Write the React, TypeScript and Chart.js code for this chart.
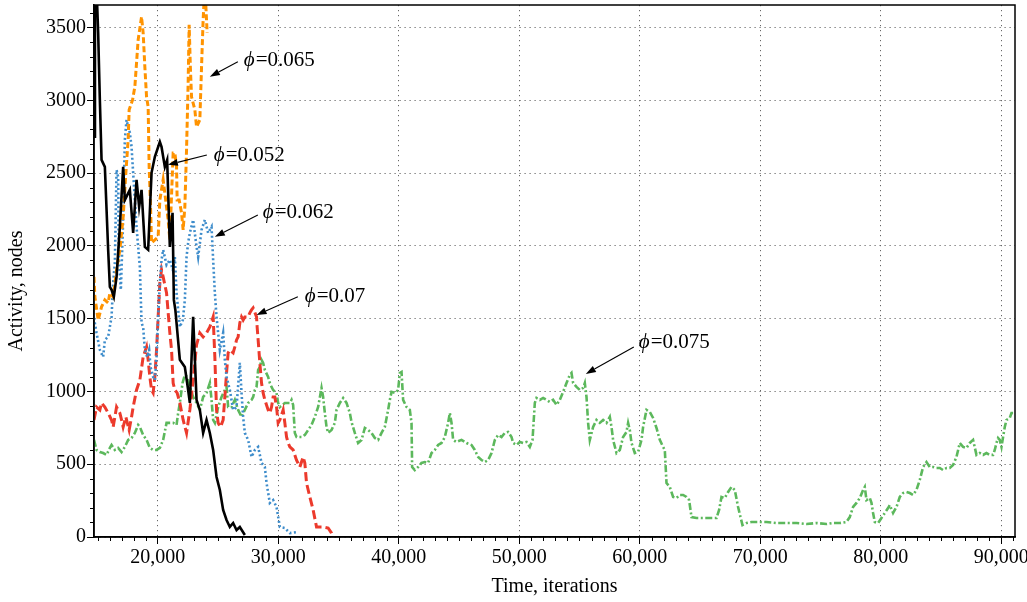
import React, { useEffect, useRef } from 'react';
import { Chart, registerables } from 'chart.js';

Chart.register(...registerables);

// ---- data (Time in iterations, Activity in nodes) ----
const phi052: [number, number][] = [
  [14700, 2750], [14780, 3800], [14900, 3800], [15045, 3464], [15186, 3003], [15327, 2591], [15601, 2543],
  [15875, 1973], [16016, 1718], [16157, 1698], [16348, 1650], [16572, 1787], [16846, 2131], [17120, 2543],
  [17261, 2316], [17676, 2385], [17950, 2089], [18232, 2454], [18448, 2268], [18647, 2385], [18921, 1993],
  [19195, 1973], [19477, 2502], [19751, 2612], [20166, 2715], [20307, 2680], [20581, 2543], [20772, 2591],
  [20996, 1993], [21220, 2227], [21328, 1629], [21453, 1560], [21826, 1217], [22241, 1168], [22515, 1010],
  [22656, 921], [22930, 1512], [23212, 942], [23486, 873], [23760, 715], [24042, 804], [24316, 715],
  [24590, 598], [24872, 412], [25146, 323], [25420, 186], [25702, 117], [25976, 69], [26250, 96],
  [26532, 48], [26806, 69], [27221, 14],
];

const phi062: [number, number][] = [
  [14700, 1505], [14912, 1402], [15186, 1285], [15460, 1237], [15601, 1354], [15875, 1375], [16157, 1512],
  [16290, 1746], [16431, 1883], [16572, 2522], [16705, 2474], [16763, 1904], [16929, 1698], [17095, 2110],
  [17261, 2729], [17402, 2866], [17535, 2818], [17676, 2777], [17817, 2680], [17950, 2502], [18091, 2316],
  [18232, 2131], [18365, 1993], [18506, 1856], [18647, 1471], [18780, 1443], [18921, 1285], [19112, 1237],
  [19278, 1285], [19394, 1168], [19610, 1100], [19751, 1079], [19892, 1237], [20025, 1512], [20166, 1746],
  [20307, 1904], [20440, 1973], [20722, 1869], [20996, 1904], [21245, 1835], [21411, 1924], [21552, 1677],
  [21826, 1443], [22075, 1491], [22241, 1629], [22382, 1924], [22515, 2021], [22656, 2089], [22930, 2179],
  [23212, 1993], [23345, 1924], [23627, 2110], [23901, 2179], [24175, 2089], [24457, 2131], [24590, 1904],
  [24731, 1677], [24872, 1512], [25146, 1285], [25420, 1402], [25561, 1217], [25702, 1100], [25976, 1010],
  [26250, 873], [26532, 893], [26806, 1196], [26946, 990], [27079, 825], [27221, 715], [27495, 667],
  [27777, 550], [28051, 598], [28325, 619], [28607, 509], [28881, 481], [29022, 371], [29296, 234],
  [29570, 254], [29852, 206], [30126, 69], [30541, 62], [30956, 27], [31645, 34],
];

const phi065: [number, number][] = [
  [14700, 1787], [14771, 1650], [15045, 1491], [15327, 1581], [15601, 1629], [15875, 1608], [16016, 1677],
  [16290, 1650], [16572, 1835], [16846, 1973], [17120, 2199], [17344, 2502], [17535, 2729], [17618, 2935],
  [17900, 3003], [18091, 3093], [18365, 3416], [18647, 3574], [18780, 3464], [18921, 3230], [19062, 3024],
  [19195, 2955], [19278, 2543], [19394, 2268], [19477, 2021], [19751, 2041], [20025, 2062], [20166, 2316],
  [20440, 2454], [20855, 2179], [20996, 2041], [21270, 2639], [21411, 2639], [21552, 2543], [21602, 2316],
  [21768, 2316], [21967, 2227], [22100, 2110], [22241, 2268], [22382, 2660], [22515, 3120], [22598, 3519],
  [22698, 3230], [22796, 3024], [23071, 2935], [23212, 2818], [23486, 2866], [23627, 3230], [23760, 3553],
  [23901, 3794], [24092, 3464],
];

const phi070: [number, number][] = [
  [14700, 804], [14912, 893], [15186, 873], [15327, 921], [15601, 893], [15875, 852], [16157, 804],
  [16290, 756], [16572, 893], [16846, 852], [16987, 804], [17120, 756], [17344, 825], [17618, 735],
  [17817, 825], [17950, 893], [18232, 1010], [18506, 1079], [18780, 1237], [19062, 1306], [19195, 1217],
  [19336, 1100], [19477, 1010], [19610, 990], [19751, 1100], [19892, 1285], [20025, 1512], [20166, 1746],
  [20307, 1835], [20440, 1787], [20722, 1677], [20996, 1402], [21137, 1285], [21270, 1058], [21411, 1010],
  [21602, 990], [21826, 921], [22100, 804], [22382, 715], [22656, 873], [22930, 1079], [23212, 1320],
  [23486, 1402], [23760, 1375], [24042, 1402], [24316, 1443], [24590, 1512], [24731, 1237], [24872, 873],
  [25005, 784], [25204, 756], [25420, 804], [25561, 962], [25702, 1127], [25835, 1265], [25976, 1285],
  [26250, 1265], [26391, 1306], [26532, 1354], [26665, 1375], [26806, 1471], [26946, 1512], [27079, 1491],
  [27221, 1512], [27495, 1512], [27636, 1540], [27777, 1560], [27910, 1574], [28192, 1512], [28242, 1443],
  [28325, 1354], [28466, 1196], [28607, 1058], [28740, 990], [28881, 942], [29155, 873], [29296, 852],
  [29437, 893], [29570, 962], [29711, 962], [29852, 893], [29985, 784], [30126, 804], [30400, 873],
  [30541, 784], [30682, 687], [30815, 646], [30956, 619], [31230, 598], [31504, 529], [31786, 481],
  [32060, 550], [32201, 509], [32342, 371], [32616, 275], [32890, 186], [33172, 69], [33446, 69],
  [33720, 69], [34135, 62], [34417, 27], [34550, 0],
];

const phi075: [number, number][] = [
  [14700, 667], [14912, 598], [15186, 584], [15460, 577], [15742, 564], [16016, 612], [16157, 632], [16431, 598],
  [16705, 612], [16987, 584], [17261, 619], [17535, 667], [17817, 680], [18091, 715], [18365, 770], [18506, 756],
  [18780, 701], [19062, 667], [19336, 612], [19610, 598], [19892, 598], [20166, 612], [20440, 667], [20722, 784],
  [20996, 784], [21270, 784], [21552, 770], [21685, 852], [21826, 921], [22050, 1058], [22241, 1113], [22432, 1100],
  [22656, 1031], [22930, 962], [23212, 921], [23486, 873], [23760, 962], [24042, 990], [24316, 1058], [24457, 942],
  [24590, 804], [24731, 784], [25005, 893], [25287, 962], [25561, 1010], [25702, 1031], [25835, 893], [26117, 893],
  [26391, 942], [26665, 873], [26946, 825], [27221, 873], [27495, 921], [27777, 942], [27910, 962], [28051, 1010],
  [28192, 1031], [28325, 1148], [28466, 1168], [28607, 1217], [28740, 1196], [28881, 1148], [29155, 1100], [29296, 1058],
  [29437, 1031], [29570, 1010], [29852, 990], [29985, 921], [30126, 893], [30541, 921], [30956, 921], [31097, 942],
  [31230, 907], [31371, 715], [31512, 687], [31927, 687], [32201, 701], [32475, 735], [32757, 770], [33031, 825],
  [33305, 893], [33587, 1024], [33720, 962], [33861, 852], [34002, 756], [34135, 715], [34417, 735], [34691, 784],
  [34832, 873], [35106, 921], [35380, 955], [35662, 921], [35936, 852], [36077, 790], [36351, 715], [36625, 646],
  [36907, 667], [37181, 749], [37455, 735], [37737, 715], [38011, 680], [38285, 667], [38567, 715], [38841, 756],
  [39115, 873], [39256, 942], [39397, 997], [39671, 990], [39945, 1010], [40086, 1127], [40227, 1134], [40360, 942],
  [40642, 893], [40916, 873], [41057, 784], [41107, 481], [41331, 460], [41605, 481], [41887, 509], [42161, 515],
  [42435, 509], [42717, 577], [42991, 598], [43265, 632], [43547, 646], [43821, 687], [44095, 784], [44236, 852],
  [44377, 784], [44510, 667], [44792, 653], [45207, 667], [45622, 646], [46037, 632], [46311, 598], [46585, 550],
  [46867, 529], [47141, 515], [47415, 529], [47697, 577], [47971, 667], [48245, 701], [48527, 687], [48801, 715],
  [49075, 722], [49357, 687], [49490, 646], [49772, 632], [50046, 653], [50320, 646], [50602, 653], [50876, 619],
  [51100, 667], [51291, 921], [51432, 955], [51706, 942], [51980, 955], [52262, 942], [52536, 928], [52810, 942],
  [53092, 907], [53366, 942], [53640, 997], [53922, 1058], [54196, 1113], [54337, 1127], [54470, 1058], [54752, 1031],
  [55026, 1010], [55300, 1024], [55441, 1058], [55582, 962], [55715, 784], [55856, 667], [56130, 756], [56412, 804],
  [56686, 784], [56960, 804], [57242, 784], [57516, 825], [57657, 756], [57790, 667], [58072, 577], [58346, 598],
  [58620, 687], [58902, 722], [59035, 784], [59176, 735], [59317, 646], [59591, 577], [59865, 584], [60147, 667],
  [60280, 756], [60562, 873], [60836, 859], [61110, 818], [61392, 749], [61666, 667], [61940, 619], [62081, 598],
  [62222, 371], [62496, 344], [62770, 275], [63052, 268], [63326, 289], [63600, 289], [63882, 275], [64098, 254],
  [64297, 137], [64712, 131], [65260, 131], [65816, 131], [66372, 131], [66588, 186], [66787, 275], [67061, 268],
  [67335, 309], [67617, 344], [67891, 323], [68165, 206], [68364, 137], [68530, 82], [68862, 96], [69277, 103],
  [69825, 103], [70522, 103], [71352, 96], [72182, 96], [73012, 96], [73842, 89], [74672, 96], [75502, 89],
  [76050, 96], [76606, 96], [77162, 103], [77436, 137], [77710, 206], [77992, 234], [78266, 268], [78540, 323],
  [78681, 344], [78822, 254], [79096, 268], [79237, 234], [79370, 165], [79511, 103], [79785, 96], [80067, 131],
  [80341, 165], [80615, 199], [80756, 220], [81030, 165], [81312, 206], [81586, 275], [81860, 302], [82142, 309],
  [82416, 302], [82690, 289], [82972, 323], [83246, 392], [83520, 481], [83802, 515], [84076, 481], [84350, 481],
  [84632, 474], [84906, 474], [85180, 460], [85462, 474], [85736, 474], [86010, 495], [86292, 550], [86566, 646],
  [86840, 619], [87122, 612], [87396, 646], [87670, 667], [87952, 564], [88226, 577], [88500, 564], [88782, 577],
  [89056, 564], [89330, 564], [89471, 598], [89612, 646], [89745, 680], [89886, 667], [90027, 619], [90160, 687],
  [90301, 756], [90442, 804], [90716, 818], [90857, 852], [90990, 852],
];

const seriesNames = ['φ=0.052', 'φ=0.062', 'φ=0.065', 'φ=0.07', 'φ=0.075'];

// axis ranges / tick labels
const xMin = 14700;
const xMax = 91150;
const yMin = 0;
const yMax = 3655;
const xTicks = [20000, 30000, 40000, 50000, 60000, 70000, 80000, 90000];
const yTicks = [0, 500, 1000, 1500, 2000, 2500, 3000, 3500];
const xMinorStep = 1000;
const yMinorStep = 100;
const xTitle = 'Time, iterations';
const yTitle = 'Activity, nodes';

// annotation labels (data coordinates: text anchor, arrow tail, arrow tip)
const annoLabels = ['0.065', '0.052', '0.062', '0.07', '0.075'];
const annoTextX = [27138, 24648, 28715, 32201, 59923];
const annoTextY = [3272, 2619, 2227, 1650, 1333];
const annoTailX = [26640, 24067, 28300, 31620, 59508];
const annoTailY = [3265, 2625, 2213, 1650, 1306];
const annoTipX = [24316, 20830, 24731, 28192, 55524];
const annoTipY = [3162, 2557, 2062, 1526, 1120];

const FONT = '"Liberation Serif", "Times New Roman", serif';
const FS = 20;

const toPts = (arr: [number, number][]) => arr.map(([x, y]) => ({ x, y }));

const framePlugin = {
  id: 'frameAndMinor',
  afterDraw(chart: any) {
    const { ctx, chartArea, scales } = chart;
    const xs = scales.x;
    const ys = scales.y;
    ctx.save();
    // minor ticks
    ctx.strokeStyle = '#000';
    ctx.lineWidth = 1;
    ctx.beginPath();
    for (let v = Math.ceil(xMin / xMinorStep) * xMinorStep; v <= xMax; v += xMinorStep) {
      if (xTicks.includes(v)) continue;
      const px = Math.round(xs.getPixelForValue(v)) + 0.5;
      ctx.moveTo(px, chartArea.bottom);
      ctx.lineTo(px, chartArea.bottom + 4);
    }
    for (let v = yMin; v <= yMax; v += yMinorStep) {
      if (yTicks.includes(v)) continue;
      const py = Math.round(ys.getPixelForValue(v)) + 0.5;
      ctx.moveTo(chartArea.left - 4, py);
      ctx.lineTo(chartArea.left, py);
    }
    ctx.stroke();
    // frame
    ctx.lineWidth = 1.5;
    ctx.strokeRect(chartArea.left, chartArea.top, chartArea.right - chartArea.left, chartArea.bottom - chartArea.top);

    // y-axis title
    ctx.fillStyle = '#000';
    ctx.font = `${FS}px ${FONT}`;
    ctx.textAlign = 'center';
    ctx.textBaseline = 'middle';
    ctx.save();
    ctx.translate(17, (chartArea.top + chartArea.bottom) / 2 + 20);
    ctx.rotate(-Math.PI / 2);
    ctx.fillText(yTitle, 0, 0);
    ctx.restore();

    // annotations
    for (let i = 0; i < annoLabels.length; i++) {
      const tx = xs.getPixelForValue(annoTailX[i]);
      const ty = ys.getPixelForValue(annoTailY[i]);
      const hx = xs.getPixelForValue(annoTipX[i]);
      const hy = ys.getPixelForValue(annoTipY[i]);
      const ang = Math.atan2(hy - ty, hx - tx);
      const headLen = 10;
      const headW = 3.5;
      const bx = hx - headLen * Math.cos(ang);
      const by = hy - headLen * Math.sin(ang);
      ctx.strokeStyle = '#000';
      ctx.fillStyle = '#000';
      ctx.lineWidth = 1.1;
      ctx.beginPath();
      ctx.moveTo(tx, ty);
      ctx.lineTo(bx, by);
      ctx.stroke();
      ctx.beginPath();
      ctx.moveTo(hx, hy);
      ctx.lineTo(bx + headW * Math.sin(ang), by - headW * Math.cos(ang));
      ctx.lineTo(bx - headW * Math.sin(ang), by + headW * Math.cos(ang));
      ctx.closePath();
      ctx.fill();

      const lx = xs.getPixelForValue(annoTextX[i]);
      const ly = ys.getPixelForValue(annoTextY[i]);
      ctx.textBaseline = 'middle';
      ctx.textAlign = 'left';
      ctx.font = `italic ${FS + 1}px ${FONT}`;
      const phi = 'ϕ';
      ctx.fillText(phi, lx, ly);
      const w = ctx.measureText(phi).width;
      ctx.font = `${FS + 1}px ${FONT}`;
      ctx.fillText('=' + annoLabels[i], lx + w + 1, ly);
    }
    ctx.restore();
  },
};

export default function App() {
  const ref = useRef<HTMLCanvasElement | null>(null);
  useEffect(() => {
    document.body.style.margin = '0';
    if (!ref.current) return;
    Chart.defaults.font.family = FONT;
    Chart.defaults.font.size = FS;
    Chart.defaults.color = '#000';
    const chart = new Chart(ref.current, {
      type: 'line',
      data: {
        datasets: [
          {
            label: seriesNames[0], data: toPts(phi052), borderColor: '#000000', borderWidth: 2.6,
            pointRadius: 0, tension: 0, order: 0,
          },
          {
            label: seriesNames[2], data: toPts(phi065), borderColor: '#ff9300', borderWidth: 3,
            borderDash: [6, 3], pointRadius: 0, tension: 0, order: 1,
          },
          {
            label: seriesNames[1], data: toPts(phi062), borderColor: '#3d8ccb', borderWidth: 2.6,
            borderDash: [2, 2.5], pointRadius: 0, tension: 0, order: 2,
          },
          {
            label: seriesNames[3], data: toPts(phi070), borderColor: '#ec3a2c', borderWidth: 3,
            borderDash: [9, 4], pointRadius: 0, tension: 0, order: 3,
          },
          {
            label: seriesNames[4], data: toPts(phi075), borderColor: '#5cb85c', borderWidth: 2.6,
            borderDash: [7, 2.5, 2, 2.5], pointRadius: 0, tension: 0, order: 4,
          },
        ],
      },
      options: {
        animation: false,
        responsive: true,
        maintainAspectRatio: false,
        layout: { padding: { top: 5, right: 12, left: 0, bottom: 0 } },
        plugins: { legend: { display: false }, tooltip: { enabled: false } },
        events: [],
        scales: {
          x: {
            type: 'linear',
            min: xMin,
            max: xMax,
            afterBuildTicks: (s: any) => { s.ticks = xTicks.map((value) => ({ value })); },
            afterFit: (s: any) => { s.height = 65; s.paddingLeft = 0; s.paddingRight = 0; },
            ticks: {
              maxRotation: 0,
              autoSkip: false,
              padding: 2,
              callback: (v: any) => Number(v).toLocaleString('en-US'),
            },
            grid: { color: '#666', lineWidth: 1, tickColor: '#000', tickLength: 7, tickWidth: 1 },
            border: { display: true, color: '#000', width: 1.5, dash: [1.2, 3.8] },
            title: { display: true, text: xTitle, padding: { top: 2, bottom: 3 } },
          },
          y: {
            type: 'linear',
            min: yMin,
            max: yMax,
            afterBuildTicks: (s: any) => { s.ticks = yTicks.map((value) => ({ value })); },
            afterFit: (s: any) => { s.width = 94; s.paddingTop = 0; s.paddingBottom = 0; },
            ticks: {
              autoSkip: false,
              padding: 1,
              callback: (v: any) => String(v),
            },
            grid: { color: '#666', lineWidth: 1, tickColor: '#000', tickLength: 7, tickWidth: 1 },
            border: { display: true, color: '#000', width: 1.5, dash: [1.2, 3.8] },
            title: { display: false },
          },
        },
      },
      plugins: [framePlugin],
    } as any);
    return () => chart.destroy();
  }, []);

  return (
    <div style={{ position: 'relative', width: 1027, height: 602 }}>
      <canvas ref={ref} />
    </div>
  );
}
